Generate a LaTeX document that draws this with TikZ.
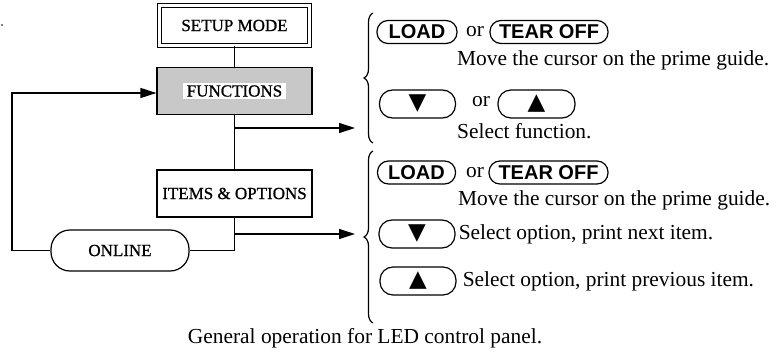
\documentclass[tikz,border=0pt]{standalone}
\usepackage{fontspec}
\setmainfont{Liberation Serif}
\newfontfamily\keyfont{Liberation Sans}
\newfontfamily\symfont{DejaVu Sans}
\newfontfamily\boxfont{Liberation Serif}[FakeBold=0.9]
\usepackage{tikz}
\usetikzlibrary{
  arrows.meta,
  positioning,
  decorations.pathreplacing
}
\definecolor{PanelGray}{RGB}{200,200,200}
\tikzset{
  modebox/.style={draw,line width=1.2pt,minimum width=155pt,minimum height=47pt,inner sep=0pt,font=\boxfont\fontsize{17}{20}\selectfont},
  setupnode/.style={modebox,double,line width=1pt,double distance=3pt,minimum width=150pt,minimum height=40pt},
  funcnode/.style={modebox,fill=PanelGray},
  onlinenode/.style={modebox,rounded corners=19pt,minimum width=138pt,minimum height=41pt},
  keypill/.style={draw,line width=1.2pt,rounded corners=11pt,minimum height=23pt,inner sep=0pt,font=\keyfont\bfseries\fontsize{20}{22}\selectfont},
  arrowpill/.style={draw,line width=1.2pt,rounded corners=13pt,minimum width=76pt,minimum height=28pt,inner sep=0pt,font=\symfont\fontsize{23}{24}\selectfont},
  guidetext/.style={anchor=west,inner sep=0pt,font=\fontsize{21.4}{24}\selectfont},
  ortext/.style={anchor=base west,inner sep=0pt,font=\fontsize{21.4}{24}\selectfont},
  flowline/.style={line width=1.2pt},
  flowarrow/.style={-{Triangle[length=16pt,width=10pt]},line width=1.2pt},
  keybrace/.style={decorate,decoration={brace,amplitude=9pt},line width=1.2pt}
}

\begin{document}
\begin{tikzpicture}[x=1pt,y=-1pt]
\useasboundingbox (0,0) rectangle (784,353);
\fill (2,25) circle (0.9pt);

% mode chain
\node[setupnode] (setup) at (234.5,25.5) {SETUP MODE};
\node[funcnode,label={[fill=white,inner xsep=4pt,inner ysep=2pt,font=\boxfont\fontsize{17}{20}\selectfont]center:FUNCTIONS}] (funcs) at (234.5,91) {};
\node[modebox] (items) at (234.5,193.5) {ITEMS \& OPTIONS};
\node[onlinenode] (online) at (120,250.5) {ONLINE};

\coordinate (fjoin) at (234.5,128);
\coordinate (fend) at (355,128);
\coordinate (ijoin) at (234.5,234);
\coordinate (iend) at (355,234);
\coordinate (loopx) at (12,200);

\draw[flowline] (setup) -- (funcs);
\draw[flowline] (funcs) -- (items);
\draw[flowline] (items.south) |- (online.east);
\draw[flowarrow] (fjoin) -- (fend);
\draw[flowarrow] (ijoin) -- (iend);
\draw[flowarrow] (online.west) -| (loopx) |- ([yshift=-2pt]funcs.west);

% keys for FUNCTIONS
\draw[keybrace] (373,143) -- (373,13);
\node[keypill,minimum width=80pt] (load1) at (417,32) {LOAD};
\node[ortext] (or1) at (466,37) {or};
\node[keypill,minimum width=118pt] (tear1) at (549,32) {TEAR OFF};
\node[guidetext] (move1) at (457,60) {Move the cursor on the prime guide.};
\node[arrowpill] (down1) at (417.5,104) {▼};
\node[ortext] (or2) at (472,106) {or};
\node[arrowpill,minimum width=77pt] (up1) at (536.5,104) {▲};
\node[guidetext] (sel1) at (457,131) {Select function.};

% keys for ITEMS & OPTIONS
\draw[keybrace] (373,323) -- (373,151);
\node[keypill,minimum width=78pt] (load2) at (416.5,172.5) {LOAD};
\node[ortext] (or3) at (466,177) {or};
\node[keypill,minimum width=119pt] (tear2) at (548.5,172.5) {TEAR OFF};
\node[guidetext] (move2) at (458,200) {Move the cursor on the prime guide.};
\node[arrowpill] (down2) at (417,234) {▼};
\node[guidetext,right=3pt of down2] (sel2) {Select option, print next item.};
\node[arrowpill] (up2) at (418,281) {▲};
\node[guidetext,right=6pt of up2] (sel3) {Select option, print previous item.};

\node[guidetext,anchor=center] (caption) at (365,338) {General operation for LED control panel.};
\end{tikzpicture}
\end{document}
